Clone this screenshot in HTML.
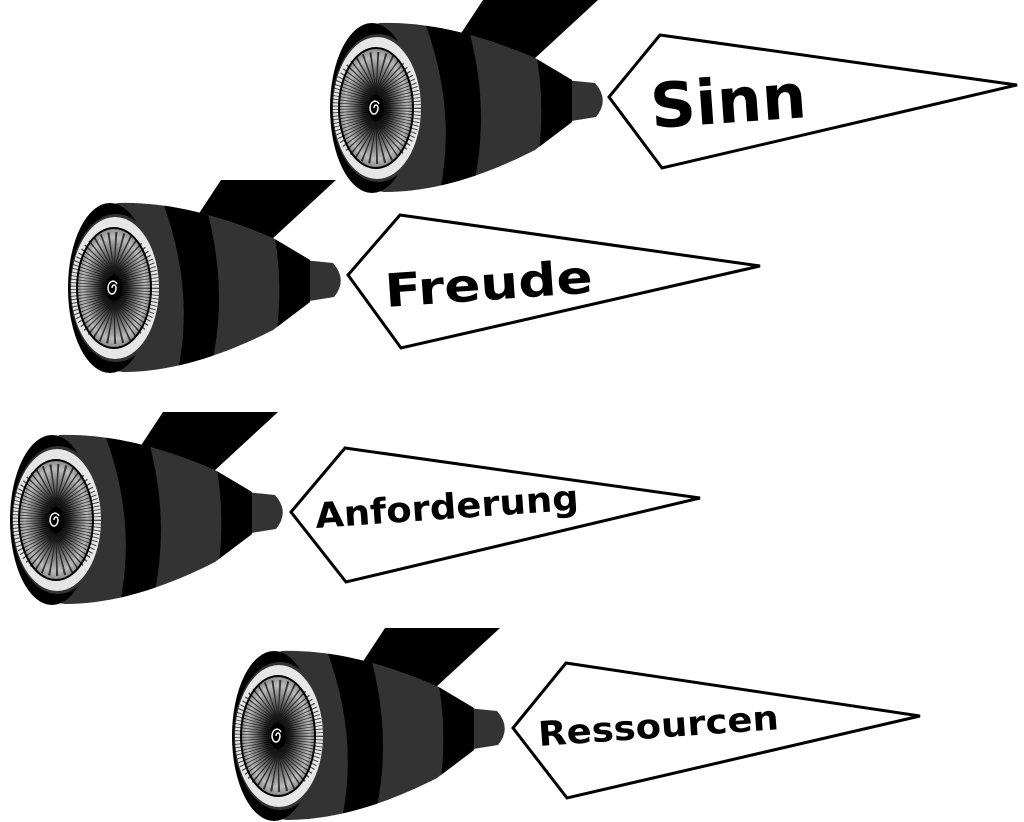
<!DOCTYPE html>
<html><head><meta charset="utf-8"><style>
html,body{margin:0;padding:0;background:#fff;}
svg{display:block;}
text{font-family:"DejaVu Sans","Liberation Sans",sans-serif;font-weight:bold;fill:#000;}
</style></head><body>
<svg width="1024" height="822" viewBox="0 0 1024 822" xmlns="http://www.w3.org/2000/svg">
<defs>
<radialGradient id="fan" cx="0.5" cy="0.5" r="0.5">
<stop offset="0" stop-color="#000"/><stop offset="0.35" stop-color="#222"/><stop offset="0.85" stop-color="#bbb"/><stop offset="1" stop-color="#888"/>
</radialGradient>
<clipPath id="bc"><path d="M60,23 C100,22 150,30 215,58 L252,80 L252,122 L215,150 C160,178 110,192 65,192 L0,192 L0,23 Z"/></clipPath>
<g id="eng">
<polygon points="138,38 163,0 278,0 213,60" fill="#000"/>
<path d="M245,80 L275,83 Q290,100 276,117 L245,122 Z" fill="#333"/>
<path d="M60,23 C100,22 150,30 215,58 L252,80 L252,122 L215,150 C160,178 110,192 65,192 A55,85 0 0 1 60,23 Z" fill="#333"/>
<g clip-path="url(#bc)">
<path d="M100,10 Q140,108 118,200 L150,200 Q175,108 143,10 Z" fill="#000"/>
<path d="M205,10 Q235,100 210,200 L240,200 Q262,100 250,10 Z" fill="#000"/>
</g>
<ellipse cx="52" cy="108" rx="42" ry="85" fill="#000"/>
<ellipse cx="58" cy="108" rx="46" ry="74" fill="#333"/>
<ellipse cx="57" cy="108" rx="44" ry="71" fill="#e6e6e6"/>
<ellipse cx="56" cy="108" rx="37" ry="60" fill="url(#fan)"/>
<ellipse cx="56" cy="108" rx="17" ry="28" fill="none" stroke="#000" stroke-width="56" stroke-dasharray="0.6 1.6" opacity="0.7"/>
<ellipse cx="56" cy="108" rx="8" ry="13" fill="#000"/>
<ellipse cx="56" cy="108" rx="37" ry="60" fill="none" stroke="#000" stroke-width="2"/>
<path d="M54,108 a2,3 0 1 1 4,0 a4,6 0 1 1 -8,0 a5,7 0 0 1 9,-4" fill="none" stroke="#fff" stroke-width="1.5"/>
</g>
</defs>
<use href="#eng" transform="translate(320,0)"/>
<use href="#eng" transform="translate(58,180)"/>
<use href="#eng" transform="translate(0,412)"/>
<use href="#eng" transform="translate(222,628)"/>
<g fill="#fff" stroke="#000" stroke-width="3" stroke-linejoin="miter">
<polygon points="609,97 660,35 1017,85 662,168"/>
<polygon points="348,275 400,215 760,266 401,348"/>
<polygon points="291,512 345,448 700,498 346,582"/>
<polygon points="513,728 566,663 920,716 567,798"/>
</g>
<text x="652" y="128" font-size="62" textLength="156" lengthAdjust="spacingAndGlyphs" transform="rotate(-4 652 128)">Sinn</text>
<text x="386" y="307" font-size="46" textLength="208" lengthAdjust="spacingAndGlyphs" transform="rotate(-4 386 307)">Freude</text>
<text x="316" y="528" font-size="35" textLength="264" lengthAdjust="spacingAndGlyphs" transform="rotate(-4 316 528)">Anforderung</text>
<text x="539" y="746" font-size="34" textLength="241" lengthAdjust="spacingAndGlyphs" transform="rotate(-4 539 746)">Ressourcen</text>
</svg>
</body></html>
